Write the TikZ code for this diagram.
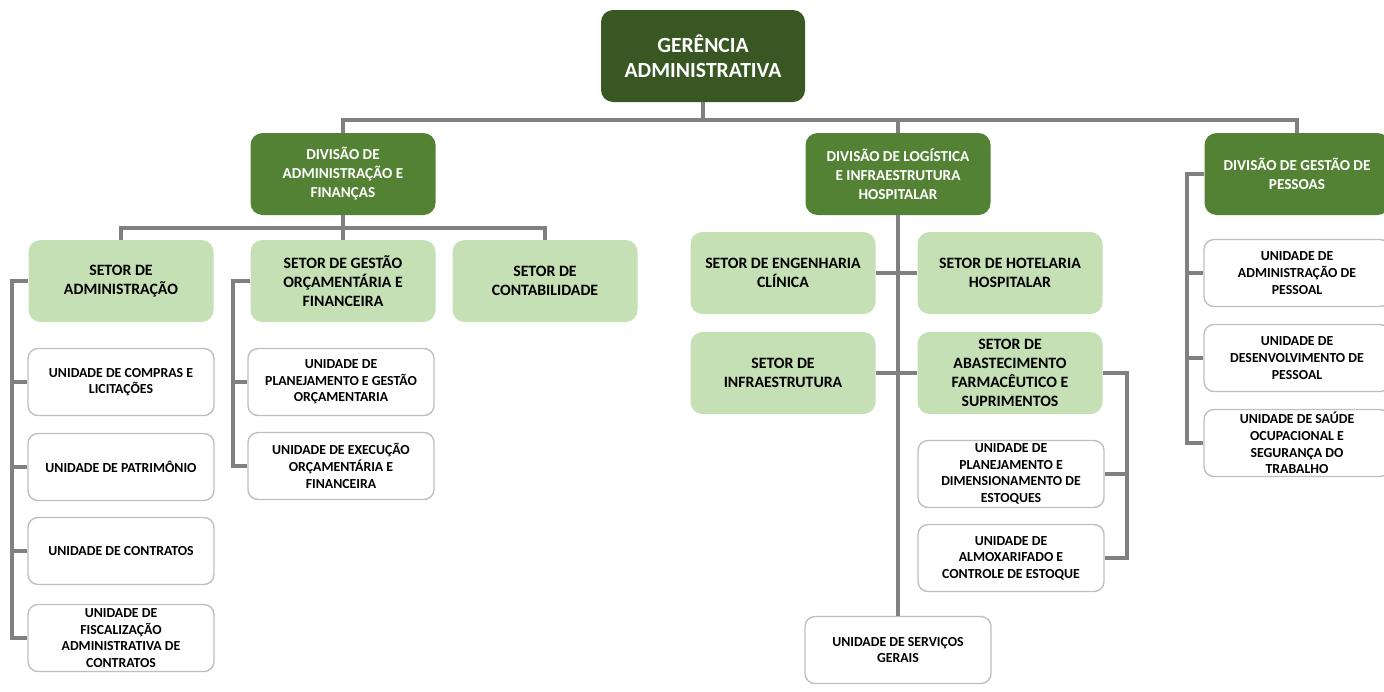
\documentclass[tikz,border=0pt]{standalone}
\usepackage{fontspec}
\setmainfont{Carlito}
\definecolor{gerfill}{HTML}{385723}
\definecolor{divfill}{HTML}{548235}
\definecolor{setfill}{HTML}{C5E0B4}
\definecolor{unitline}{HTML}{BFBFBF}
\definecolor{connline}{HTML}{808080}
\begin{document}
\begin{tikzpicture}[x=0.5pt, y=-0.5pt,
		conn/.style = {draw=connline, line width=2pt},
		gerbox/.style = {fill=gerfill, rounded corners=6pt, text=white, align=center,
			minimum width=102pt, minimum height=46pt, font=\fontsize{10.8}{12.5}\selectfont\bfseries},
		divbox/.style = {fill=divfill, rounded corners=6pt, text=white, align=center,
			minimum width=92.5pt, minimum height=41pt, font=\fontsize{7.6}{9.5}\selectfont\bfseries},
		setbox/.style = {fill=setfill, rounded corners=6pt, text=black, align=center,
			minimum width=92.5pt, minimum height=41pt, font=\fontsize{7.9}{9.4}\selectfont\bfseries},
		unitbox/.style = {draw=unitline, fill=white, line width=0.7pt, rounded corners=5pt, align=center,
			minimum width=93pt, minimum height=33.5pt, inner sep=1pt, font=\fontsize{6.9}{8.3}\selectfont\bfseries}]
				\useasboundingbox (0,0) rectangle (1384,691);
				\node[gerbox] (ger) at (703,56) {GERÊNCIA\\ADMINISTRATIVA};
				\node[divbox] (dadm) at (343,174) {DIVISÃO DE\\ADMINISTRAÇÃO E\\FINANÇAS};
				\node[divbox] (dlog) at (898,174) {DIVISÃO DE LOGÍSTICA\\E INFRAESTRUTURA\\HOSPITALAR};
				\node[divbox] (dges) at (1297,174) {DIVISÃO DE GESTÃO DE\\PESSOAS};
				\node[setbox] (sadm) at (121,281) {SETOR DE\\ADMINISTRAÇÃO};
				\node[setbox] (sgo) at (343,281) {SETOR DE GESTÃO\\ORÇAMENTÁRIA E\\FINANCEIRA};
				\node[setbox] (scont) at (545,281) {SETOR DE\\CONTABILIDADE};
				\node[unitbox] (ucomp) at (121,382) {UNIDADE DE COMPRAS E\\LICITAÇÕES};
				\node[unitbox] (upat) at (121,467) {UNIDADE DE PATRIMÔNIO};
				\node[unitbox] (ucont) at (121,551) {UNIDADE DE CONTRATOS};
				\node[unitbox] (ufisc) at (121,638) {UNIDADE DE\\FISCALIZAÇÃO\\ADMINISTRATIVA DE\\CONTRATOS};
				\node[unitbox] (uplo) at (341,382) {UNIDADE DE\\PLANEJAMENTO E GESTÃO\\ORÇAMENTARIA};
				\node[unitbox] (uexe) at (341,466) {UNIDADE DE EXECUÇÃO\\ORÇAMENTÁRIA E\\FINANCEIRA};
				\node[setbox] (seng) at (783,273) {SETOR DE ENGENHARIA\\CLÍNICA};
				\node[setbox] (shot) at (1010,273) {SETOR DE HOTELARIA\\HOSPITALAR};
				\node[setbox] (sinf) at (783,373) {SETOR DE\\INFRAESTRUTURA};
				\node[setbox] (sabs) at (1010,373) {SETOR DE\\ABASTECIMENTO\\FARMACÊUTICO E\\SUPRIMENTOS};
				\node[unitbox] (uplan) at (1011,474) {UNIDADE DE\\PLANEJAMENTO E\\DIMENSIONAMENTO DE\\ESTOQUES};
				\node[unitbox] (ualm) at (1011,558) {UNIDADE DE\\ALMOXARIFADO E\\CONTROLE DE ESTOQUE};
				\node[unitbox] (userv) at (898,650) {UNIDADE DE SERVIÇOS\\GERAIS};
				\node[unitbox] (uapes) at (1297,273) {UNIDADE DE\\ADMINISTRAÇÃO DE\\PESSOAL};
				\node[unitbox] (udpes) at (1297,358) {UNIDADE DE\\DESENVOLVIMENTO DE\\PESSOAL};
				\node[unitbox] (usau) at (1297,443) {UNIDADE DE SAÚDE\\OCUPACIONAL E\\SEGURANÇA DO\\TRABALHO};
				\coordinate (topbus) at (703,120);
				\coordinate (admbus) at (343,228);
				\coordinate (admrail) at (12,281);
				\coordinate (gorail) at (233,281);
				\coordinate (absrail) at (1127,373);
				\coordinate (gesrail) at (1187,174);
				\draw[conn] (ger.south) -- (topbus);
				\draw[conn] (dadm.north) |- (topbus) -| (dges.north);
				\draw[conn] (dlog.north) -- (dlog.north |- topbus);
				\draw[conn] (dadm.south) -- (sgo.north);
				\draw[conn] (sadm.north) |- (admbus) -| (scont.north);
				\draw[conn] (sadm.west) -- (admrail) |- (ufisc.west);
				\foreach \u in {ucomp,upat,ucont}
					\draw[conn] (\u.west) -- (\u.west -| admrail);
				\draw[conn] (sgo.west) -- (gorail) |- (uexe.west);
				\draw[conn] (uplo.west) -- (uplo.west -| gorail);
				\draw[conn] (dlog.south) -- (userv.north);
				\draw[conn] (seng.east) -- (shot.west);
				\draw[conn] (sinf.east) -- (sabs.west);
				\draw[conn] (sabs.east) -- (absrail) |- (ualm.east);
				\draw[conn] (uplan.east) -- (uplan.east -| absrail);
				\draw[conn] (dges.west) -- (gesrail) |- (usau.west);
				\foreach \u in {uapes,udpes}
					\draw[conn] (\u.west) -- (\u.west -| gesrail);
		\end{tikzpicture}
\end{document}
